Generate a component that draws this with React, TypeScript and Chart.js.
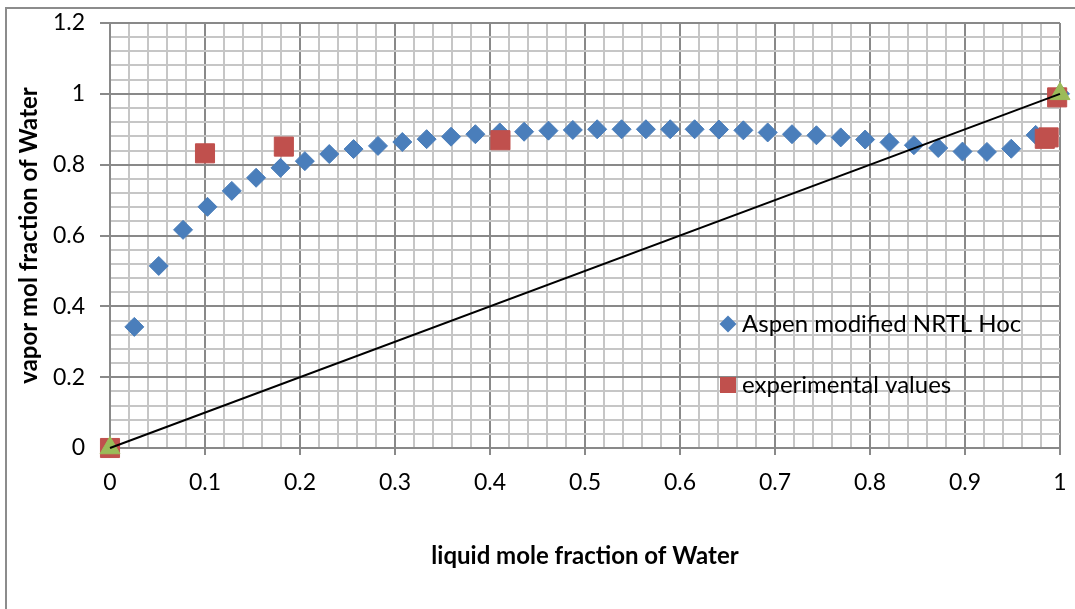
import React, { useEffect, useRef } from 'react';
import { Chart, registerables } from 'chart.js';

Chart.register(...registerables);

// Aspen modified NRTL HOC model curve
const modelX = [
  0, 0.0256, 0.0513, 0.0769, 0.1026, 0.1282, 0.1538, 0.1795, 0.2051, 0.2308,
  0.2564, 0.2821, 0.3077, 0.3333, 0.359, 0.3846, 0.4103, 0.4359, 0.4615, 0.4872,
  0.5128, 0.5385, 0.5641, 0.5897, 0.6154, 0.641, 0.6667, 0.6923, 0.7179, 0.7436,
  0.7692, 0.7949, 0.8205, 0.8462, 0.8718, 0.8974, 0.9231, 0.9487, 0.9744, 1,
];
const modelY = [
  0, 0.342, 0.514, 0.616, 0.681, 0.726, 0.763, 0.791, 0.81, 0.83,
  0.844, 0.853, 0.864, 0.872, 0.879, 0.886, 0.891, 0.893, 0.896, 0.898,
  0.9, 0.9, 0.9, 0.9, 0.9, 0.899, 0.897, 0.891, 0.886, 0.883,
  0.877, 0.871, 0.863, 0.855, 0.847, 0.837, 0.836, 0.845, 0.884, 1,
];

// experimental values
const expX = [0, 0.1, 0.183, 0.411, 0.984, 0.988, 0.997];
const expY = [0, 0.832, 0.851, 0.869, 0.873, 0.877, 0.99];

// end points (triangles) and y = x diagonal
const endX = [0, 1];
const endY = [0, 1];
const diagX = [0, 1];
const diagY = [0, 1];

const legendLabels = ['Aspen modified NRTL Hoc', 'experimental values'];
const xTitle = 'liquid mole fraction of Water';
const yTitle = 'vapor mol fraction of Water';

const BLUE = '#4A7EBB';
const RED = '#C0504D';
const GREEN = '#9BBB59';
const MAJOR = '#898989';
const MINOR = '#c6c6c6';
const FONT = 'Lato, "Open Sans", sans-serif';

const toPts = (xs: number[], ys: number[]) => xs.map((x, i) => ({ x, y: ys[i] }));

const isMult = (v: number, step: number) => Math.abs(v / step - Math.round(v / step)) < 1e-6;

const framePlugin = {
  id: 'frame',
  beforeDraw(chart: any) {
    const ctx = chart.ctx;
    ctx.save();
    ctx.fillStyle = '#ffffff';
    ctx.fillRect(0, 0, chart.width, chart.height);
    ctx.strokeStyle = '#8c8c8c';
    ctx.lineWidth = 2;
    ctx.strokeRect(6, 8, chart.width + 20, chart.height + 20);
    ctx.restore();
  },
};

const legendPlugin = {
  id: 'insideLegend',
  afterDraw(chart: any) {
    const ctx = chart.ctx;
    ctx.save();
    const mx = 728;
    const tx = 742;
    const y1 = 324;
    const y2 = 385;
    // diamond
    ctx.fillStyle = BLUE;
    ctx.beginPath();
    ctx.moveTo(mx - 8.5, y1);
    ctx.lineTo(mx, y1 - 8.5);
    ctx.lineTo(mx + 8.5, y1);
    ctx.lineTo(mx, y1 + 8.5);
    ctx.closePath();
    ctx.fill();
    // square
    ctx.fillStyle = RED;
    ctx.fillRect(mx - 8, y2 - 8, 16, 16);
    ctx.fillStyle = '#000';
    ctx.font = `24px ${FONT}`;
    ctx.textBaseline = 'middle';
    ctx.textAlign = 'left';
    ctx.fillText(legendLabels[0], tx, y1);
    ctx.fillText(legendLabels[1], tx, y2);
    ctx.restore();
  },
};

export default function App() {
  const ref = useRef<HTMLCanvasElement | null>(null);

  useEffect(() => {
    if (!ref.current) return;
    const chart = new Chart(ref.current, {
      type: 'scatter',
      data: {
        datasets: [
          {
            label: 'diagonal',
            data: toPts(diagX, diagY),
            showLine: true,
            borderColor: '#000',
            borderWidth: 2,
            pointRadius: 0,
            fill: false,
            order: 0,
            clip: false,
          } as any,
          {
            label: 'ends',
            data: toPts(endX, endY),
            pointStyle: 'triangle',
            pointRadius: 11.5,
            pointBackgroundColor: GREEN,
            pointBorderColor: GREEN,
            pointBorderWidth: 1,
            showLine: false,
            order: 1,
            clip: false,
          } as any,
          {
            label: legendLabels[1],
            data: toPts(expX, expY),
            pointStyle: 'rect',
            pointRadius: 13.5,
            pointBackgroundColor: RED,
            pointBorderColor: RED,
            pointBorderWidth: 1,
            showLine: false,
            order: 2,
            clip: false,
          } as any,
          {
            label: legendLabels[0],
            data: toPts(modelX, modelY),
            pointStyle: 'rectRot',
            pointRadius: 9.5,
            pointBackgroundColor: BLUE,
            pointBorderColor: BLUE,
            pointBorderWidth: 1,
            showLine: false,
            order: 3,
            clip: false,
          } as any,
        ],
      },
      options: {
        responsive: false,
        animation: false,
        devicePixelRatio: 1,
        layout: { padding: { left: 0, top: 23, right: 15, bottom: 0 } },
        plugins: {
          legend: { display: false },
          tooltip: { enabled: false },
        },
        scales: {
          x: {
            type: 'linear',
            min: 0,
            max: 1,
            afterFit(scale: any) {
              scale.height = 161;
              scale.paddingLeft = 0;
              scale.paddingRight = 0;
            },
            ticks: {
              stepSize: 0.02,
              autoSkip: false,
              maxRotation: 0,
              color: '#000',
              padding: 14,
              font: { family: FONT, size: 23 },
              callback: (v: any) => (isMult(Number(v), 0.1) ? String(Math.round(Number(v) * 10) / 10) : ''),
            },
            grid: {
              color: (c: any) => (c.tick && isMult(c.tick.value, 0.1) ? MAJOR : MINOR),
              lineWidth: 2,
              tickLength: 7,
              tickColor: (c: any) => (c.tick && isMult(c.tick.value, 0.1) ? MAJOR : 'rgba(0,0,0,0)'),
              tickWidth: 2,
            },
            border: { color: MAJOR, width: 2 },
            title: {
              display: true,
              text: xTitle,
              color: '#000',
              font: { family: FONT, size: 24, weight: 'bold' },
              padding: { top: 0, bottom: 38 },
            },
          },
          y: {
            type: 'linear',
            min: 0,
            max: 1.2,
            afterFit(scale: any) {
              scale.width = 110;
              scale.paddingTop = 0;
              scale.paddingBottom = 0;
            },
            ticks: {
              stepSize: 0.04,
              autoSkip: false,
              color: '#000',
              padding: 15,
              font: { family: FONT, size: 23 },
              callback: (v: any) => (isMult(Number(v), 0.2) ? String(Math.round(Number(v) * 10) / 10) : ''),
            },
            grid: {
              color: (c: any) => (c.tick && isMult(c.tick.value, 0.2) ? MAJOR : MINOR),
              lineWidth: 2,
              tickLength: 10,
              tickColor: (c: any) => (c.tick && isMult(c.tick.value, 0.2) ? MAJOR : 'rgba(0,0,0,0)'),
              tickWidth: 2,
            },
            border: { color: MAJOR, width: 2 },
            title: {
              display: true,
              text: yTitle,
              color: '#000',
              font: { family: FONT, size: 24, weight: 'bold' },
              padding: { top: 15, bottom: 0 },
            },
          },
        },
      },
      plugins: [framePlugin, legendPlugin],
    } as any);
    return () => chart.destroy();
  }, []);

  return (
    <div style={{ position: 'fixed', left: 0, top: 0, width: 1075, height: 609, background: '#fff' }}>
      <canvas ref={ref} width={1075} height={609} style={{ display: 'block', width: 1075, height: 609 }} />
    </div>
  );
}
